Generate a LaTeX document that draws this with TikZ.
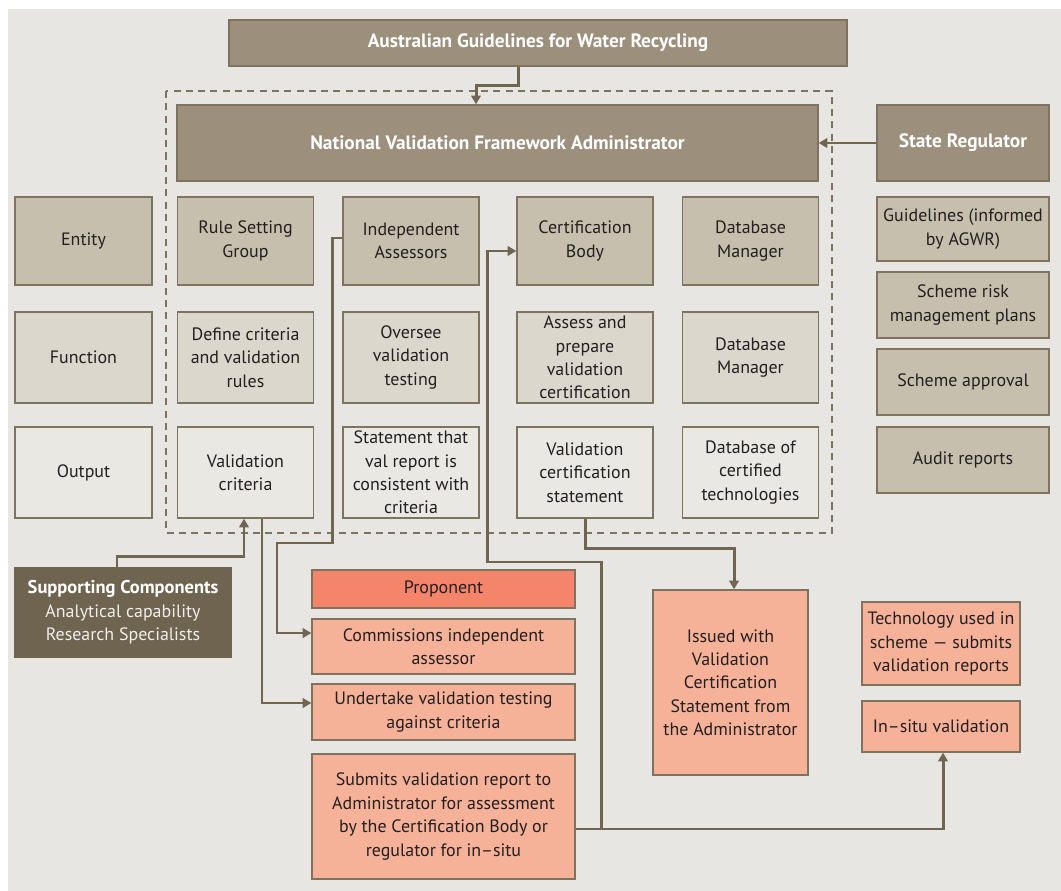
\documentclass[tikz,border=0pt]{standalone}
\usepackage{fontspec}
\setmainfont{PT Sans}
\usetikzlibrary{arrows.meta}

\definecolor{bgcol}{HTML}{E8E6E2}
\definecolor{headcol}{HTML}{9C8F7C}
\definecolor{entcol}{HTML}{C7BFAD}
\definecolor{funcol}{HTML}{DBD7CD}
\definecolor{outcol}{HTML}{EAE8E3}
\definecolor{edgecol}{HTML}{7D735F}
\definecolor{linecol}{HTML}{6F6550}
\definecolor{suppcol}{HTML}{6E6450}
\definecolor{propcol}{HTML}{F4846A}
\definecolor{salcol}{HTML}{F6B199}
\definecolor{txtcol}{HTML}{231F20}

\tikzset{
  box/.style={draw=edgecol, line width=0.8pt, inner sep=2pt, align=center,
    text=txtcol, font=\fontsize{10.2}{13.3}\selectfont},
  headbox/.style={box, fill=headcol, text=white, font=\bfseries\fontsize{11}{13}\selectfont},
  entbox/.style={box, fill=entcol},
  funbox/.style={box, fill=funcol},
  outbox/.style={box, fill=outcol},
  probox/.style={box, fill=salcol},
  link/.style={draw=linecol, line width=1.7pt, -{Triangle[length=5pt,width=5.5pt]}},
}

\begin{document}
\begin{tikzpicture}[x=0.02cm,y=-0.02cm]
    \useasboundingbox (0,0) rectangle (1061,891);
    \fill[bgcol] (8,9) rectangle (1061,891);
    \draw[edgecol, dash pattern=on 4pt off 3pt, line width=0.8pt] (166,91) rectangle (832,533);

    \newcommand{\ColL}{83.5}
    \newcommand{\ColA}{245.5}
    \newcommand{\ColB}{411}
    \newcommand{\ColC}{585}
    \newcommand{\ColD}{750.5}
    \newcommand{\RowEnt}{241}
    \newcommand{\RowFun}{357.5}
    \newcommand{\RowOut}{472.5}

    % top
    \node[headbox, minimum width=12.36cm, minimum height=0.92cm] (agwr) at (538,43)
      {Australian Guidelines for Water Recycling};
    \node[headbox, minimum width=12.82cm, minimum height=1.52cm] (nvfa) at (497.5,143)
      {National Validation Framework Administrator};
    \node[headbox, minimum width=3.44cm, minimum height=1.52cm] (sreg) at (963,143)
      {State Regulator};

    % row labels
    \node[entbox, minimum width=2.74cm, minimum height=1.76cm] (lent) at (\ColL,\RowEnt) {Entity};
    \node[funbox, minimum width=2.74cm, minimum height=1.82cm] (lfun) at (\ColL,\RowFun) {Function};
    \node[outbox, minimum width=2.74cm, minimum height=1.82cm] (lout) at (\ColL,\RowOut) {Output};

    % entities
    \node[entbox, minimum width=2.72cm, minimum height=1.76cm] (rsg) at (\ColA,\RowEnt) {Rule Setting\\Group};
    \node[entbox, minimum width=2.72cm, minimum height=1.76cm] (indep) at (\ColB,\RowEnt) {Independent\\Assessors};
    \node[entbox, minimum width=2.72cm, minimum height=1.76cm] (cert) at (\ColC,\RowEnt) {Certification\\Body};
    \node[entbox, minimum width=2.72cm, minimum height=1.76cm] (dbm) at (\ColD,\RowEnt) {Database\\Manager};

    % functions
    \node[funbox, minimum width=2.72cm, minimum height=1.82cm] (defcrit) at (\ColA,\RowFun)
      {Define criteria\\and validation\\rules};
    \node[funbox, minimum width=2.72cm, minimum height=1.82cm] (oversee) at (\ColB,\RowFun)
      {Oversee\\validation\\testing};
    \node[funbox, minimum width=2.72cm, minimum height=1.82cm] (assess) at (\ColC,\RowFun)
      {Assess and\\prepare\\validation\\certification};
    \node[funbox, minimum width=2.72cm, minimum height=1.82cm] (dbfun) at (\ColD,\RowFun)
      {Database\\Manager};

    % outputs
    \node[outbox, minimum width=2.72cm, minimum height=1.82cm] (valcrit) at (\ColA,\RowOut)
      {Validation\\criteria};
    \node[outbox, minimum width=2.72cm, minimum height=1.82cm] (stmt) at (\ColB,\RowOut)
      {Statement that\\val report is\\consistent with\\criteria};
    \node[outbox, minimum width=2.72cm, minimum height=1.82cm] (valcert) at (\ColC,\RowOut)
      {Validation\\certification\\statement};
    \node[outbox, minimum width=2.72cm, minimum height=1.82cm] (dbtech) at (\ColD,\RowOut)
      {Database of\\certified\\technologies};

    % regulator column
    \node[entbox, minimum width=3.44cm, minimum height=1.28cm] (guide) at (963,229)
      {Guidelines (informed\\by AGWR)};
    \node[entbox, minimum width=3.44cm, minimum height=1.32cm] (risk) at (963,305)
      {Scheme risk\\management plans};
    \node[entbox, minimum width=3.44cm, minimum height=1.32cm] (approve) at (963,382)
      {Scheme approval};
    \node[entbox, minimum width=3.44cm, minimum height=1.32cm] (audit) at (963,460)
      {Audit reports};

    % supporting
    \node[box, fill=suppcol, draw=suppcol, text=white!90!suppcol, minimum width=4.32cm,
      minimum height=1.78cm] (supp) at (123,612.5)
      {{\color{white}\bfseries\fontsize{10.5}{13.5}\selectfont Supporting Components}\\
       Analytical capability\\Research Specialists};

    % proponent
    \node[probox, fill=propcol, minimum width=5.26cm, minimum height=0.76cm] (prop) at (443.5,589)
      {Proponent};
    \node[probox, minimum width=5.26cm, minimum height=1.1cm] (commis) at (443.5,646.5)
      {Commissions independent\\assessor};
    \node[probox, minimum width=5.26cm, minimum height=1.12cm] (undertake) at (443.5,712)
      {Undertake validation testing\\against criteria};
    \node[probox, minimum width=5.26cm, minimum height=2.5cm] (submits) at (443.5,816.5)
      {Submits validation report to\\Administrator for assessment\\by the Certification Body or\\regulator for in--situ};
    \node[probox, minimum width=3.1cm, minimum height=3.7cm] (issued) at (730.5,682.5)
      {Issued with\\Validation\\Certification\\Statement from\\the Administrator};
    \node[probox, minimum width=3.16cm, minimum height=1.66cm] (tech) at (941,643.5)
      {Technology used in\\scheme --- submits\\validation reports};
    \node[probox, minimum width=3.16cm, minimum height=1.02cm] (insitu) at (941,726.5)
      {In--situ validation};

    % connectors
    \draw[link] ([xshift=-0.4cm]agwr.south) -- ++(0,19) -| ([xshift=-0.43cm]nvfa.north);
    \draw[link] (sreg.west) -- (nvfa.east);
    \draw[link] ([xshift=-0.12cm]supp.north) -- ++(0,-11) -| ([xshift=-0.03cm]valcrit.south);
    \draw[link] ([xshift=0.33cm]valcrit.south) |- ([yshift=0.18cm]undertake.west);
    \draw[link] ([yshift=0.06cm]indep.west) -- ++(-10,0) |- (277,543) |- ([yshift=0.27cm]commis.west);
    \draw[link] ([yshift=-0.25cm]submits.east) -| ([xshift=0.04cm]insitu.south);
    \draw[link] ([yshift=-0.25cm]submits.east) -- ++(26,0) |- (487,562) |- ([yshift=-0.2cm]cert.west);
    \draw[link] (valcert.south) -- ++(0,30) -| ([xshift=0.07cm]issued.north);
\end{tikzpicture}
\end{document}
